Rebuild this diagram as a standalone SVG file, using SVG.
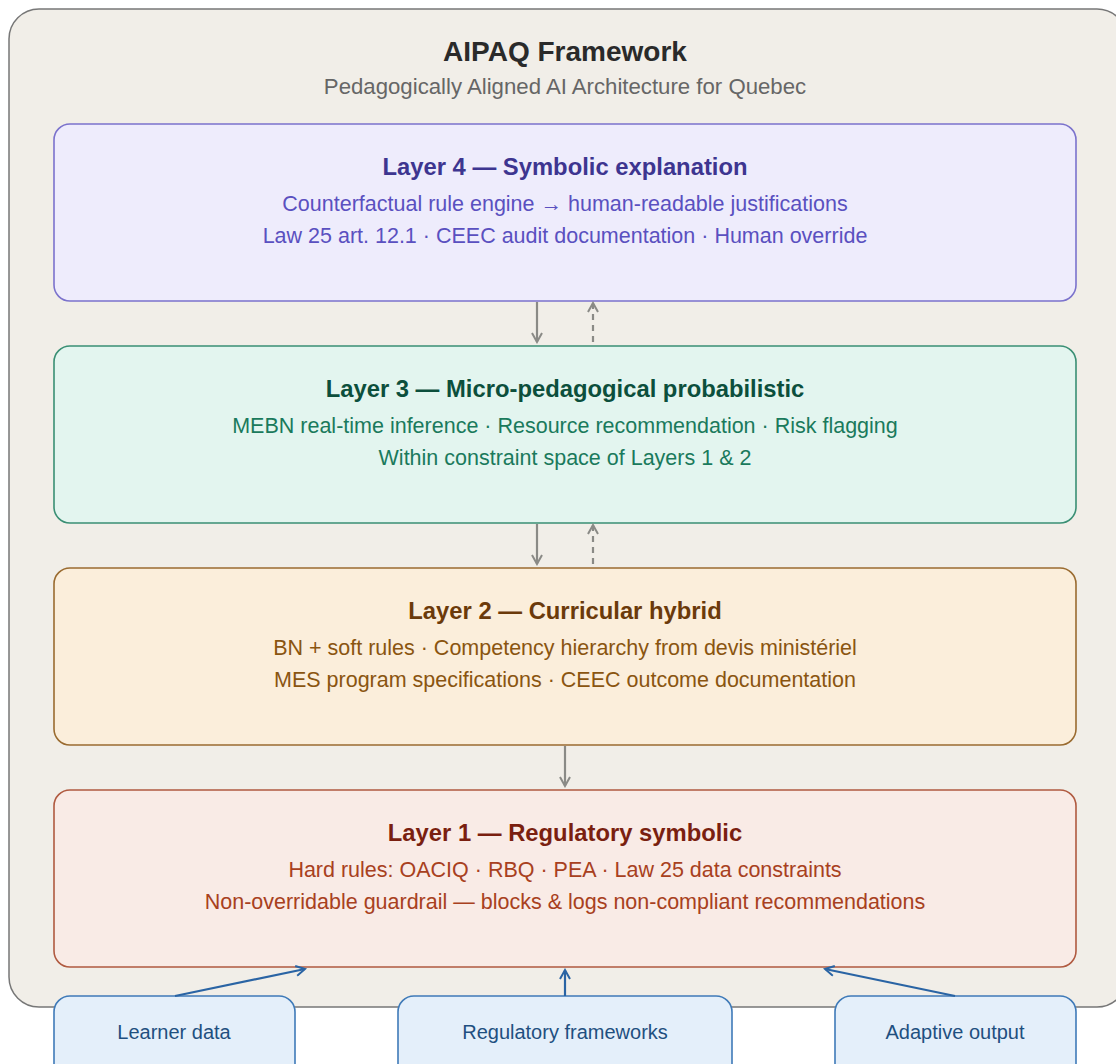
<svg xmlns="http://www.w3.org/2000/svg" width="1116" height="1064" viewBox="0 0 1116 1064">
<defs>
<style>
text{font-family:"Liberation Sans",Arial,sans-serif;text-anchor:middle}
.t{font-size:23.8px;font-weight:bold}
.l{font-size:21.5px}
.b{font-size:20px;fill:#1f4f80}
.gray{stroke:#8a8a86;stroke-width:2.2;fill:none}
.blue{stroke:#2a64a4;stroke-width:2.2;fill:none}
</style>
<marker id="ag" viewBox="0 0 12 12" refX="10" refY="6" markerWidth="12" markerHeight="12" markerUnits="userSpaceOnUse" orient="auto"><path d="M1,1 L10,6 L1,11" fill="none" stroke="#8a8a86" stroke-width="2"/></marker>
<marker id="ab" viewBox="0 0 12 12" refX="10" refY="6" markerWidth="12" markerHeight="12" markerUnits="userSpaceOnUse" orient="auto"><path d="M1,1 L10,6 L1,11" fill="none" stroke="#2a64a4" stroke-width="2"/></marker>
</defs>
<rect width="1116" height="1064" fill="#ffffff"/>
<g id="frame">
<rect x="9" y="9" width="1118" height="998" rx="30" fill="#f1eee8" stroke="#777" stroke-width="1.5"/>
<text x="565" y="61" style="font-size:28px;font-weight:bold;fill:#2a2a2a">AIPAQ Framework</text>
<text x="565" y="94" style="font-size:22.2px;fill:#666">Pedagogically Aligned AI Architecture for Quebec</text>
</g>
<g id="layer4">
<rect x="54" y="124" width="1022" height="177" rx="16" fill="#eeecfc" stroke="#7b72cc" stroke-width="1.6"/>
<text x="565" y="175" class="t" fill="#3d3590">Layer 4 — Symbolic explanation</text>
<text x="565" y="211" class="l" fill="#5a50c0">Counterfactual rule engine → human-readable justifications</text>
<text x="565" y="243" class="l" fill="#5a50c0">Law 25 art. 12.1 · CEEC audit documentation · Human override</text>
</g>
<g id="layer3">
<rect x="54" y="346" width="1022" height="177" rx="16" fill="#e3f5ef" stroke="#3a8f74" stroke-width="1.6"/>
<text x="565" y="397" class="t" fill="#0c4f3c">Layer 3 — Micro-pedagogical probabilistic</text>
<text x="565" y="433" class="l" fill="#1a7a5c">MEBN real-time inference · Resource recommendation · Risk flagging</text>
<text x="565" y="465" class="l" fill="#1a7a5c">Within constraint space of Layers 1 &amp; 2</text>
</g>
<g id="layer2">
<rect x="54" y="568" width="1022" height="177" rx="16" fill="#fbeedb" stroke="#9a6b30" stroke-width="1.6"/>
<text x="565" y="619" class="t" fill="#6b3a0a">Layer 2 — Curricular hybrid</text>
<text x="565" y="655" class="l" fill="#8a5510">BN + soft rules · Competency hierarchy from devis ministériel</text>
<text x="565" y="687" class="l" fill="#8a5510">MES program specifications · CEEC outcome documentation</text>
</g>
<g id="layer1">
<rect x="54" y="790" width="1022" height="177" rx="16" fill="#f9ebe6" stroke="#b05a40" stroke-width="1.6"/>
<text x="565" y="841" class="t" fill="#7a1f10">Layer 1 — Regulatory symbolic</text>
<text x="565" y="877" class="l" fill="#a84020">Hard rules: OACIQ · RBQ · PEA · Law 25 data constraints</text>
<text x="565" y="909" class="l" fill="#a84020">Non-overridable guardrail — blocks &amp; logs non-compliant recommendations</text>
</g>
<g id="learner">
<rect x="54" y="996" width="241" height="90" rx="16" fill="#e4effa" stroke="#3f7ab8" stroke-width="1.6"/>
<text x="174" y="1039" class="b">Learner data</text>
</g>
<g id="regulatory">
<rect x="398" y="996" width="334" height="90" rx="16" fill="#e4effa" stroke="#3f7ab8" stroke-width="1.6"/>
<text x="565" y="1039" class="b">Regulatory frameworks</text>
</g>
<g id="adaptive">
<rect x="835" y="996" width="241" height="90" rx="16" fill="#e4effa" stroke="#3f7ab8" stroke-width="1.6"/>
<text x="955" y="1039" class="b">Adaptive output</text>
</g>
<g id="connectors">
<line x1="537" y1="302" x2="537" y2="342" class="gray" marker-end="url(#ag)"/>
<line x1="593" y1="342" x2="593" y2="303" class="gray" stroke-dasharray="6,5" marker-end="url(#ag)"/>
<line x1="537" y1="524" x2="537" y2="564" class="gray" marker-end="url(#ag)"/>
<line x1="593" y1="564" x2="593" y2="525" class="gray" stroke-dasharray="6,5" marker-end="url(#ag)"/>
<line x1="565" y1="746" x2="565" y2="786" class="gray" marker-end="url(#ag)"/>
<line x1="175" y1="996" x2="305" y2="969" class="blue" marker-end="url(#ab)"/>
<line x1="565" y1="996" x2="565" y2="970" class="blue" marker-end="url(#ab)"/>
<line x1="955" y1="996" x2="825" y2="969" class="blue" marker-end="url(#ab)"/>
</g>
</svg>
